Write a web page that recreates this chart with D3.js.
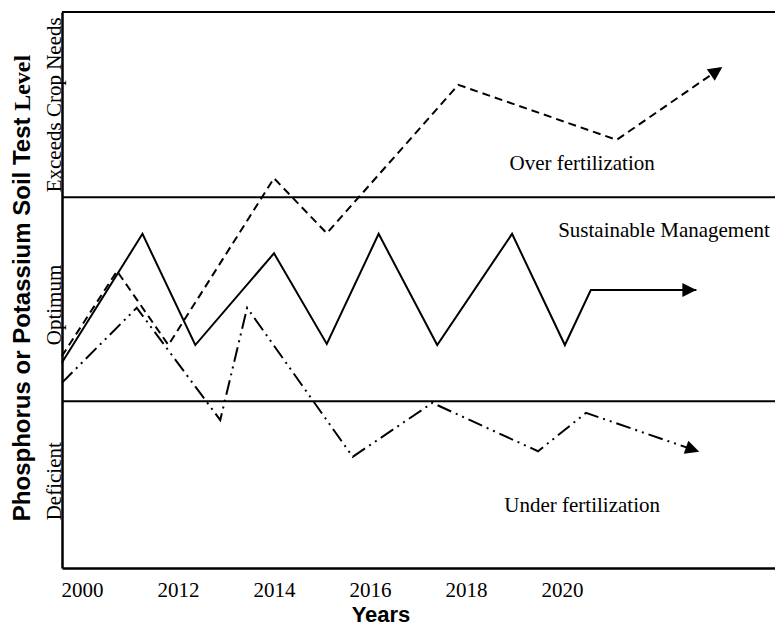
<!DOCTYPE html>
<html>
<head>
<meta charset="utf-8">
<script src="https://cdn.jsdelivr.net/npm/d3@7"></script>
<style>
  body { margin: 0; background: #fff; }
  .serif { font-family: "Liberation Serif", "Times New Roman", serif; }
  .sans { font-family: "Liberation Sans", Arial, sans-serif; font-weight: bold; }
</style>
</head>
<body>
<div id="chart"></div>
<script>
// tick labels along the bottom (one per tick position 0..5)
var yearLabels = ["2000", "2012", "2014", "2016", "2018", "2020"];

// soil test level bands, in level units 0-100
var bandEdges = [30, 66.7, 100];
var bandNames = ["Deficient", "Optimum", "Exceeds Crop Needs"];
var bandMid = [15.6, 47.3, 83.3];

// the three management paths (x in tick units, y in level units)
var sustX = [-0.21, 0.63, 1.18, 2.0, 2.55, 3.09, 3.7, 4.48, 5.03, 5.3, 6.4];
var sustY = [36.9, 60.1, 40.1, 56.6, 40.3, 60.1, 40.1, 60.1, 40.1, 50.0, 50.0];

var overX = [-0.21, 0.365, 0.9, 2.0, 2.55, 3.92, 5.57, 6.67];
var overY = [38.1, 53.4, 40.1, 70.1, 60.2, 86.9, 77.0, 90.1];

var underX = [-0.21, 0.57, 1.44, 1.72, 2.82, 3.65, 4.75, 5.25, 6.43];
var underY = [33.3, 46.8, 26.6, 46.8, 20.0, 29.7, 21.0, 27.9, 20.9];

var width = 775;
var height = 627;
var left = 62;
var bottom = 568;

var svg = d3.select("#chart")
    .append("svg")
    .attr("width", width)
    .attr("height", height);

var x = d3.scaleLinear()
    .domain([-0.2083, (width - 82) / 96])
    .range([left, width]);

var y = d3.scaleLinear()
    .domain([0, 100])
    .range([bottom, 12]);

svg.append("defs").append("marker")
    .attr("id", "arrow")
    .attr("viewBox", "0 0 10 10")
    .attr("refX", 10)
    .attr("refY", 5)
    .attr("markerUnits", "userSpaceOnUse")
    .attr("markerWidth", 17)
    .attr("markerHeight", 14)
    .attr("orient", "auto")
  .append("path")
    .attr("d", "M0,0L10,5L0,10Z")
    .attr("fill", "#000");

// band boundaries
svg.selectAll(".band")
    .data(bandEdges)
    .enter().append("line")
    .attr("x1", x(x.domain()[0]))
    .attr("x2", x(x.domain()[1]))
    .attr("y1", function(d) { return y(d); })
    .attr("y2", function(d) { return y(d); })
    .attr("stroke", "#000")
    .attr("stroke-width", 2);

// axes
var xAxis = d3.axisBottom(x)
    .tickValues(d3.range(yearLabels.length))
    .tickFormat(function(d) { return yearLabels[d]; })
    .tickSize(0)
    .tickPadding(14);

var gx = svg.append("g")
    .attr("transform", "translate(0," + bottom + ")")
    .call(xAxis);
gx.select(".domain").attr("stroke-width", 2.5);
gx.selectAll("text")
    .attr("class", "serif")
    .attr("font-size", 21)
    .attr("fill", "#000");

var gy = svg.append("g")
    .attr("transform", "translate(" + left + ",0)")
    .call(d3.axisLeft(y).tickValues([]).tickSizeOuter(0));
gy.select(".domain").attr("stroke-width", 2.5);

// paths
var line = d3.line()
    .x(function(d) { return x(d[0]); })
    .y(function(d) { return y(d[1]); });

function drawPath(xs, ys, dash) {
  svg.append("path")
    .datum(d3.zip(xs, ys))
    .attr("d", line)
    .attr("fill", "none")
    .attr("stroke", "#000")
    .attr("stroke-width", 2)
    .attr("stroke-dasharray", dash)
    .attr("marker-end", "url(#arrow)");
}
drawPath(overX, overY, "8,5");
drawPath(underX, underY, "15,5,2,5,2,5");
drawPath(sustX, sustY, null);

// band names next to the y axis
svg.selectAll(".bandName")
    .data(bandNames)
    .enter().append("text")
    .attr("class", "serif")
    .attr("font-size", 21)
    .attr("text-anchor", "middle")
    .attr("transform", function(d, i) {
      return "translate(61," + y(bandMid[i]) + ")rotate(-90)";
    })
    .text(function(d) { return d; });

// path labels
svg.append("text").attr("class", "serif").attr("font-size", 21)
    .attr("text-anchor", "middle")
    .attr("x", x(5.21)).attr("y", y(71.6))
    .text("Over fertilization");

svg.append("text").attr("class", "serif").attr("font-size", 21)
    .attr("x", x(4.96)).attr("y", y(59.5))
    .text("Sustainable Management");

svg.append("text").attr("class", "serif").attr("font-size", 21)
    .attr("text-anchor", "middle")
    .attr("x", x(5.21)).attr("y", y(10))
    .text("Under fertilization");

// axis titles
svg.append("text").attr("class", "sans").attr("font-size", 22)
    .attr("text-anchor", "middle")
    .attr("x", 381).attr("y", 622)
    .text("Years");

var yTitle = svg.append("text").attr("class", "sans").attr("font-size", 24)
    .attr("text-anchor", "middle")
    .attr("transform", "translate(30,288)rotate(-90)");
yTitle.append("tspan").text("Phosphorus or Potassium Soil Test ");
yTitle.append("tspan")
    .attr("font-family", "Liberation Serif, Times New Roman, serif")
    .text("Level");
</script>
</body>
</html>
